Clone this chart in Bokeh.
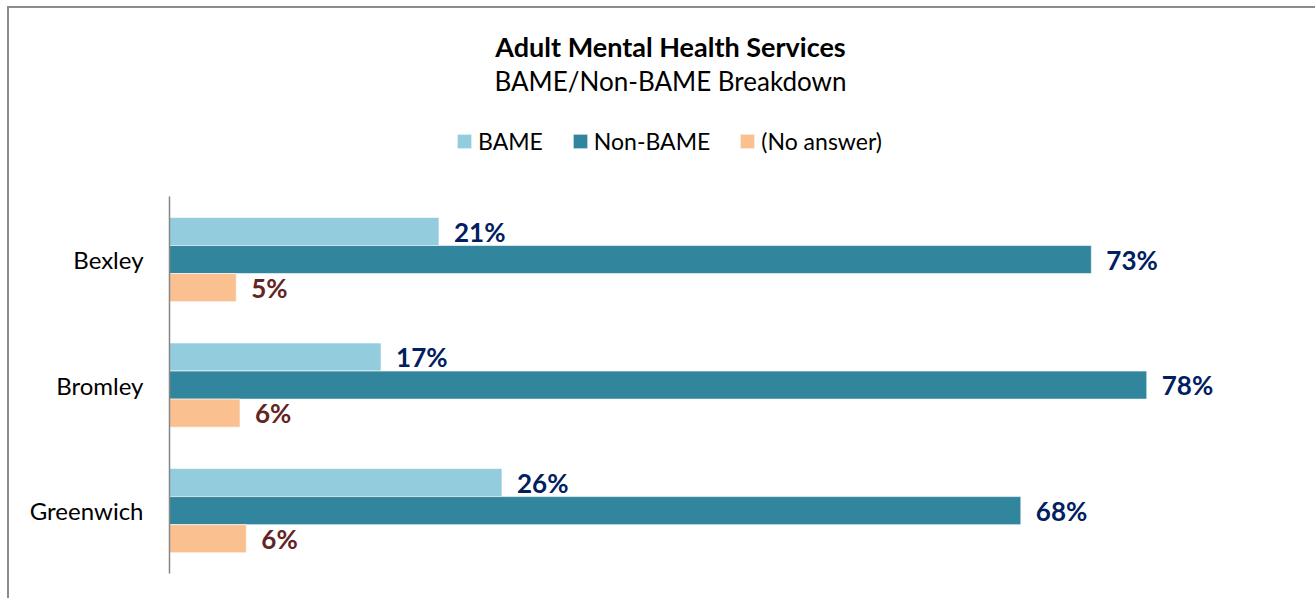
from bokeh.plotting import figure
from bokeh.models import (ColumnDataSource, Range1d, Legend, LegendItem, Label,
                          LinearAxis, FixedTicker)
from bokeh.core.properties import value
from bokeh.embed import file_html
from bokeh.resources import INLINE

# ---- data ----
categories = ["Bexley", "Bromley", "Greenwich"]
series = ["BAME", "Non-BAME", "(No answer)"]
bame = [21.4, 16.8, 26.4]
non_bame = [73.2, 77.6, 67.6]
no_answer = [5.3, 5.6, 6.1]
title_text = "Adult Mental Health Services"
subtitle_text = "BAME/Non-BAME Breakdown"

# ---- styles / layout ----
colors = ["#93CDDD", "#31859C", "#FAC090"]
label_colors = ["#002060", "#002060", "#632523"]
FONT = "Lato"
BAR_H = 0.2235
offsets = [BAR_H, 0.0, -BAR_H]

# category positions: first category on top
n = len(categories)
cat_pos = [n - i for i in range(n)]

p = figure(
    x_range=Range1d(0, 91.0),
    y_range=Range1d(0.3, 5.0),
    frame_width=1146, frame_height=590,
    min_border_left=160, min_border_right=0,
    min_border_top=0, min_border_bottom=0,
    output_backend="svg", toolbar_location=None,
    x_axis_location=None, y_axis_location=None,
)
p.styles = {"margin-left": "7px", "margin-top": "6px",
            "border-left": "2px solid #8C8C8C", "border-top": "2px solid #8C8C8C"}

renderers = []
for name, vals, col, lcol, off in zip(series, [bame, non_bame, no_answer], colors, label_colors, offsets):
    src = ColumnDataSource(dict(y=[c + off for c in cat_pos], v=vals,
                                lab=[f"{v:.0f}%" for v in vals]))
    r = p.hbar(y="y", right="v", left=0, height=BAR_H, source=src,
               fill_color=col, line_color="white", line_width=0.6)
    renderers.append(r)
    p.text(x="v", y="y", text="lab", source=src,
           x_offset=15, text_baseline="middle", text_align="left",
           text_font=value(FONT), text_font_style="bold", text_font_size="26px",
           text_color=lcol)

# category axis
yaxis = LinearAxis(ticker=FixedTicker(ticks=cat_pos),
                   major_label_overrides={pos: c for pos, c in zip(cat_pos, categories)},
                   bounds=(0.5, n + 0.5))
yaxis.major_tick_line_color = None
yaxis.minor_tick_line_color = None
yaxis.axis_line_color = "#868686"
yaxis.axis_line_width = 1.5
yaxis.major_label_text_font = FONT
yaxis.major_label_text_font_size = "24px"
yaxis.major_label_text_color = "#000000"
yaxis.major_label_standoff = 20
p.add_layout(yaxis, "left")

legend = Legend(items=[LegendItem(label=s, renderers=[r]) for s, r in zip(series, renderers)],
                orientation="horizontal", location=(286, 443),
                padding=0, margin=0, spacing=28, label_standoff=5,
                glyph_width=18, glyph_height=18,
                border_line_color=None, background_fill_alpha=0,
                label_text_font=FONT, label_text_font_size="23px", label_text_color="#000000")
p.add_layout(legend)

p.add_layout(Label(x=501, y=552, x_units="screen", y_units="screen", text=title_text,
                   text_align="center", text_baseline="middle", text_font=FONT,
                   text_font_style="bold", text_font_size="27px", text_color="#000000"))
p.add_layout(Label(x=501, y=518, x_units="screen", y_units="screen", text=subtitle_text,
                   text_align="center", text_baseline="middle", text_font=FONT,
                   text_font_size="26px", text_color="#000000"))

p.xgrid.visible = False
p.ygrid.visible = False
p.outline_line_color = None

open("out.html", "w").write(file_html(p, INLINE))
